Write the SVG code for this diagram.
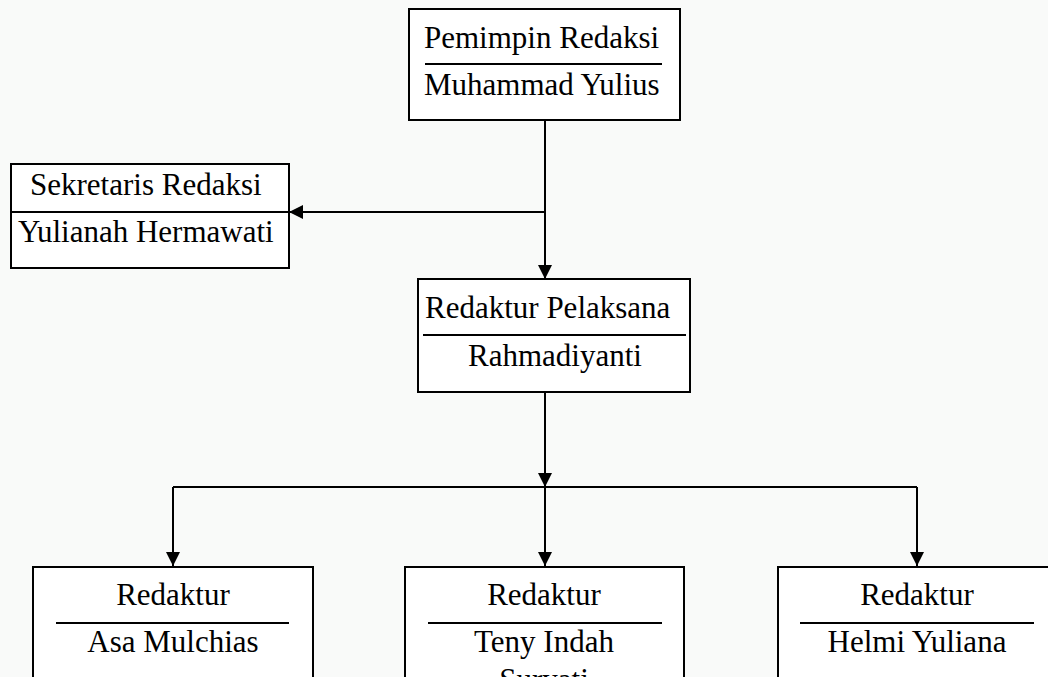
<svg xmlns="http://www.w3.org/2000/svg" width="1048" height="677" viewBox="0 0 1048 677">
<style>
.box{fill:#ffffff;stroke:#000;stroke-width:2}
.div{stroke:#000;stroke-width:2}
.t{font-family:"Liberation Serif","Times New Roman",serif;font-size:31px;fill:#000}
.c{text-anchor:middle}
.con{stroke:#000;stroke-width:2;fill:none}
</style>
<defs>
<marker id="ah" markerWidth="14" markerHeight="14" viewBox="0 0 14 14" refX="14" refY="7" orient="auto" markerUnits="userSpaceOnUse">
<path d="M0,0 L14,7 L0,14 Z" fill="#000"/>
</marker>
</defs>
<rect x="0" y="0" width="1048" height="677" fill="#f9faf9"/>
<g id="connectors">
<line class="con" x1="545" y1="120" x2="545" y2="279" marker-end="url(#ah)"/>
<line class="con" x1="545" y1="212" x2="289" y2="212" marker-end="url(#ah)"/>
<line class="con" x1="545" y1="392" x2="545" y2="487" marker-end="url(#ah)"/>
<line class="con" x1="173" y1="487" x2="917" y2="487"/>
<line class="con" x1="173" y1="487" x2="173" y2="566" marker-end="url(#ah)"/>
<line class="con" x1="545" y1="487" x2="545" y2="566" marker-end="url(#ah)"/>
<line class="con" x1="917" y1="487" x2="917" y2="566" marker-end="url(#ah)"/>
</g>
<g id="pemimpin">
<rect class="box" x="409" y="9" width="271" height="111"/>
<line class="div" x1="425" y1="64" x2="662" y2="64"/>
<text class="t" x="424" y="48">Pemimpin Redaksi</text>
<text class="t" x="424" y="95">Muhammad Yulius</text>
</g>
<g id="sekretaris">
<rect class="box" x="11" y="164" width="278" height="104"/>
<line class="div" x1="11" y1="212" x2="289" y2="212"/>
<text class="t" x="30" y="195">Sekretaris Redaksi</text>
<text class="t" x="18" y="242">Yulianah Hermawati</text>
</g>
<g id="pelaksana">
<rect class="box" x="418" y="279" width="272" height="113"/>
<line class="div" x1="423" y1="335" x2="686" y2="335"/>
<text class="t" x="425" y="318">Redaktur Pelaksana</text>
<text class="t c" x="555" y="366">Rahmadiyanti</text>
</g>
<g id="redaktur1">
<rect class="box" x="33" y="567" width="280" height="140"/>
<line class="div" x1="56" y1="623" x2="289" y2="623"/>
<text class="t c" x="173" y="605">Redaktur</text>
<text class="t c" x="173" y="652">Asa Mulchias</text>
</g>
<g id="redaktur2">
<rect class="box" x="405" y="567" width="279" height="140"/>
<line class="div" x1="428" y1="623" x2="662" y2="623"/>
<text class="t c" x="544" y="605">Redaktur</text>
<text class="t c" x="544" y="652">Teny Indah</text>
<text class="t c" x="544" y="690">Suryati</text>
</g>
<g id="redaktur3">
<rect class="box" x="778" y="567" width="290" height="140"/>
<line class="div" x1="800" y1="623" x2="1034" y2="623"/>
<text class="t c" x="917" y="605">Redaktur</text>
<text class="t c" x="917" y="652">Helmi Yuliana</text>
</g>
</svg>
